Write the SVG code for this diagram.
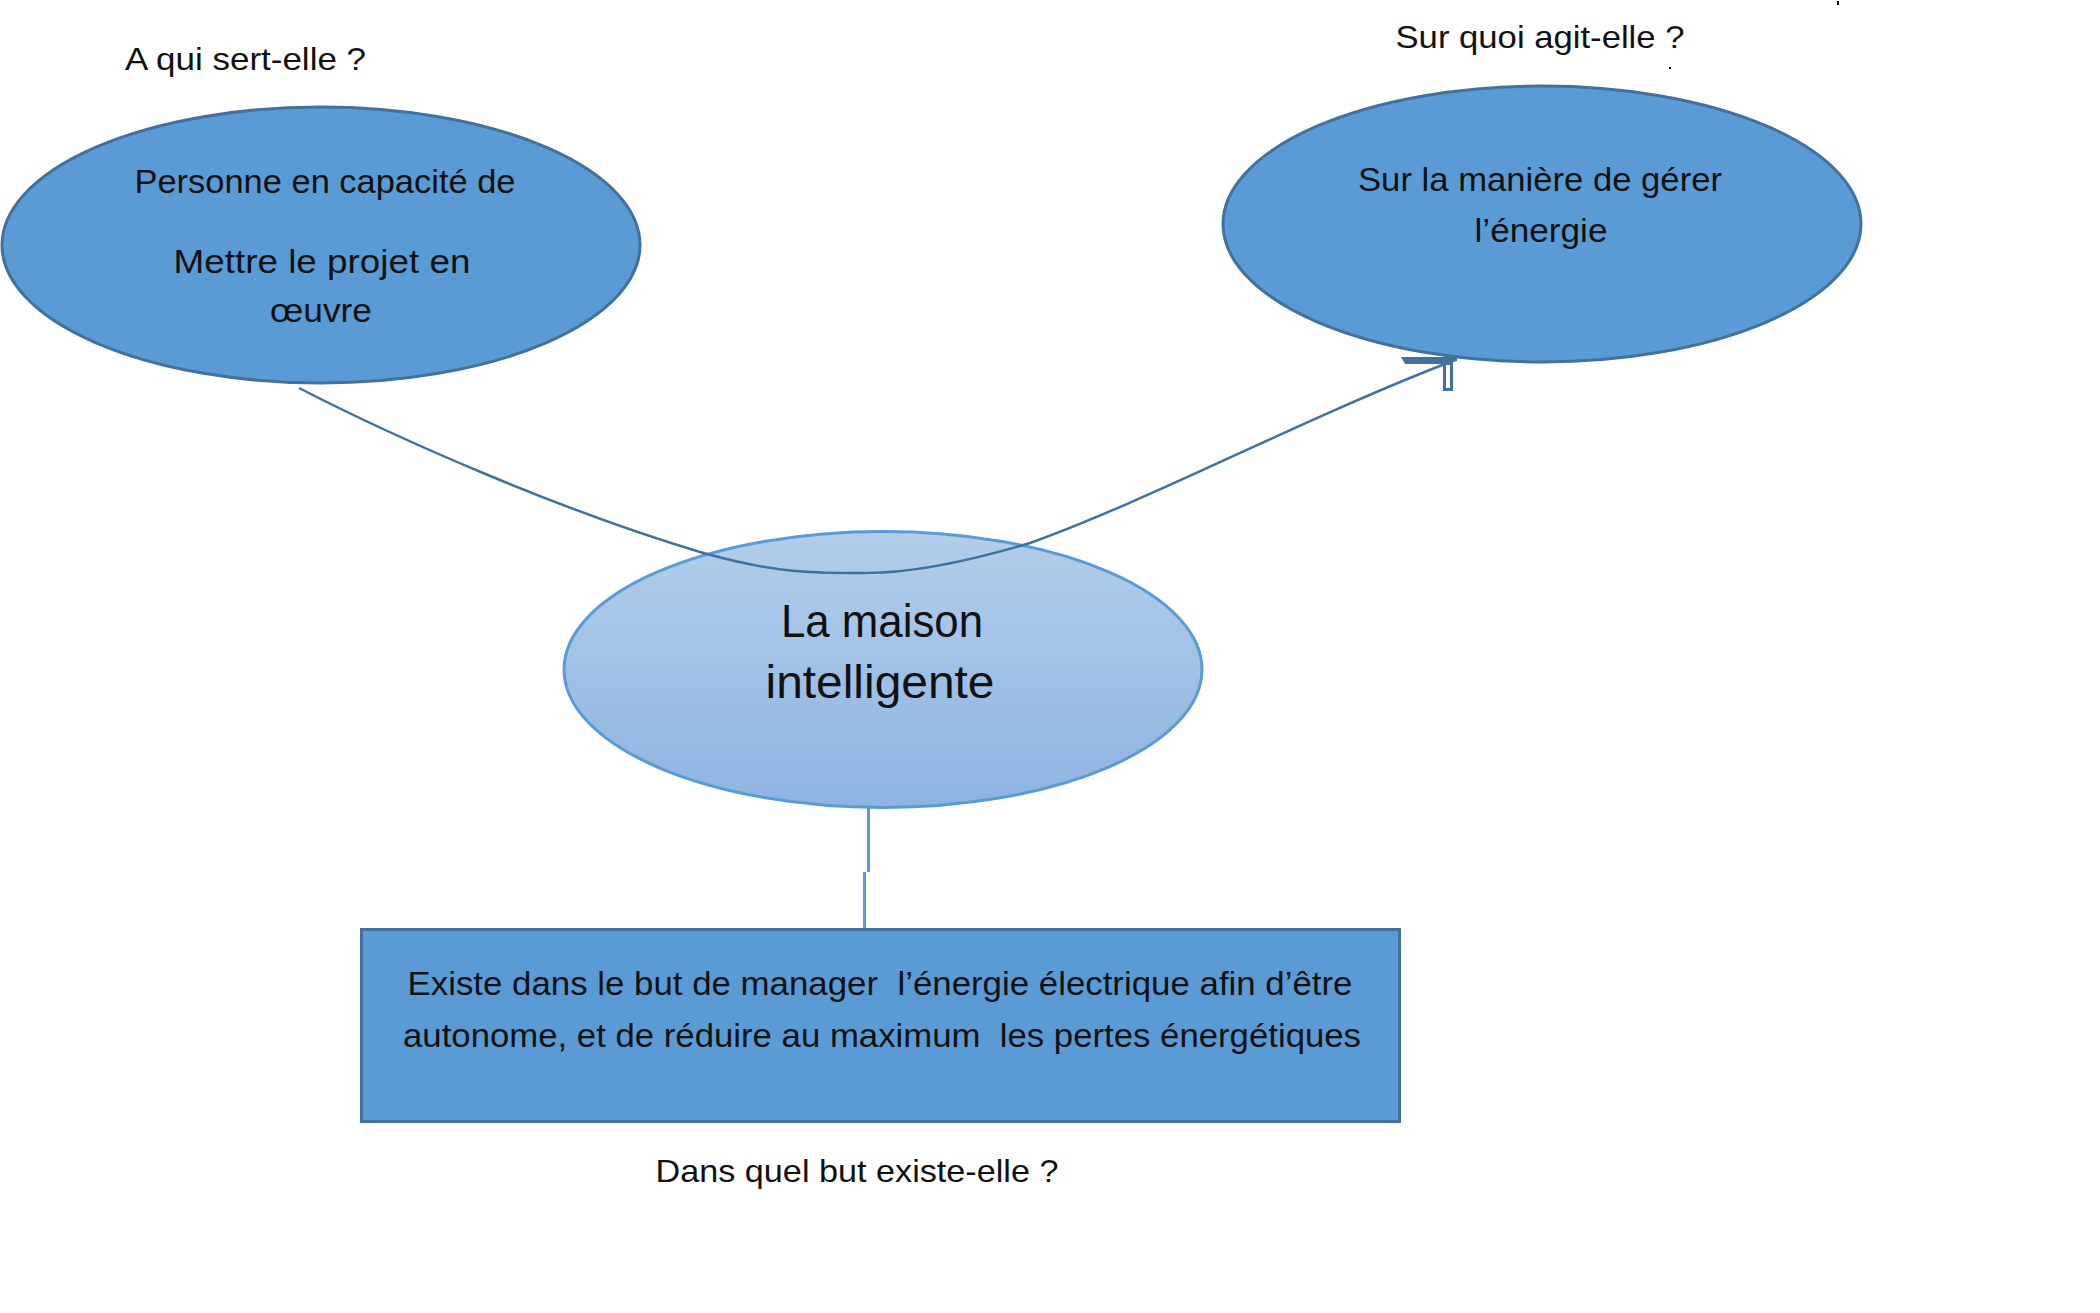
<svg xmlns="http://www.w3.org/2000/svg" width="2100" height="1313" viewBox="0 0 2100 1313">
  <defs>
    <linearGradient id="centerGrad" x1="0" y1="0" x2="0" y2="1">
      <stop offset="0" stop-color="#B3CDEA"/>
      <stop offset="1" stop-color="#8DB4E2"/>
    </linearGradient>
  </defs>
  <style>
    text { font-family: "Liberation Sans", Arial, sans-serif; fill: #111111; white-space: pre; }
    .q { font-size: 32px; }
    .body { font-size: 33px; }
    .title { font-size: 46px; }
    .node-dark { fill: #5B9BD5; stroke: #41719C; stroke-width: 3; }
    .node-center { fill: url(#centerGrad); stroke: #5B9BD5; stroke-width: 3; }
    .conn { fill: none; stroke: #41719C; stroke-width: 2.5; }
    .conn-light { fill: none; stroke: #5B9BD5; stroke-width: 3; }
  </style>
  <rect width="2100" height="1313" fill="#FFFFFF"/>

  <!-- question labels -->
  <g id="labels">
    <text class="q" x="245.5" y="70" text-anchor="middle" textLength="241" lengthAdjust="spacingAndGlyphs">A qui sert-elle ?</text>
    <text class="q" x="1540" y="48" text-anchor="middle" textLength="289" lengthAdjust="spacingAndGlyphs">Sur quoi agit-elle ?</text>
    <text class="q" x="857" y="1182" text-anchor="middle" textLength="403" lengthAdjust="spacingAndGlyphs">Dans quel but existe-elle ?</text>
    <rect x="1837" y="1" width="2" height="4" fill="#000000"/>
    <rect x="1669" y="67" width="2" height="2" fill="#000000"/>
  </g>

  <!-- node: A qui sert-elle -->
  <g id="node-personne">
    <ellipse class="node-dark" cx="321" cy="245" rx="319" ry="138"/>
    <text class="body" x="325" y="193" text-anchor="middle" textLength="381" lengthAdjust="spacingAndGlyphs">Personne en capacité de</text>
    <text class="body" x="322" y="273" text-anchor="middle" textLength="297" lengthAdjust="spacingAndGlyphs">Mettre le projet en</text>
    <text class="body" x="321" y="322" text-anchor="middle" textLength="102" lengthAdjust="spacingAndGlyphs">œuvre</text>
  </g>

  <!-- node: Sur quoi agit-elle -->
  <g id="node-energie">
    <ellipse class="node-dark" cx="1542" cy="224" rx="319" ry="138"/>
    <text class="body" x="1540" y="191" text-anchor="middle" textLength="364" lengthAdjust="spacingAndGlyphs">Sur la manière de gérer</text>
    <text class="body" x="1541" y="242" text-anchor="middle" textLength="133" lengthAdjust="spacingAndGlyphs">l’énergie</text>
  </g>

  <!-- node: center -->
  <g id="node-maison">
    <ellipse class="node-center" cx="883" cy="669.5" rx="319" ry="138"/>
    <text class="title" x="882" y="637" text-anchor="middle" textLength="202" lengthAdjust="spacingAndGlyphs">La maison</text>
    <text class="title" x="880" y="698" text-anchor="middle" textLength="229" lengthAdjust="spacingAndGlyphs">intelligente</text>
  </g>

  <!-- node: but -->
  <g id="node-but">
    <rect class="node-dark" x="361.5" y="929.5" width="1038" height="192"/>
    <text class="body" x="880" y="995" text-anchor="middle" textLength="945" lengthAdjust="spacingAndGlyphs">Existe dans le but de manager  l’énergie électrique afin d’être</text>
    <text class="body" x="882" y="1047" text-anchor="middle" textLength="958" lengthAdjust="spacingAndGlyphs">autonome, et de réduire au maximum  les pertes énergétiques</text>
  </g>

  <!-- connectors -->
  <g id="connectors">
    <path class="conn" d="M299,388 C400,440 560,510 700,552 C780,575 820,573 866,573 C920,573 980,558 1030,543 C1150,500 1300,420 1450,362"/>
    <polygon points="1401,357 1457,357 1457,361 1446,364 1405,364" fill="#41719C"/>
    <rect x="1444.5" y="363.5" width="7" height="26" fill="#FFFFFF" stroke="#41719C" stroke-width="3"/>
    <path class="conn-light" d="M868.5,807 V872 M864.5,872 V928"/>
  </g>
</svg>
